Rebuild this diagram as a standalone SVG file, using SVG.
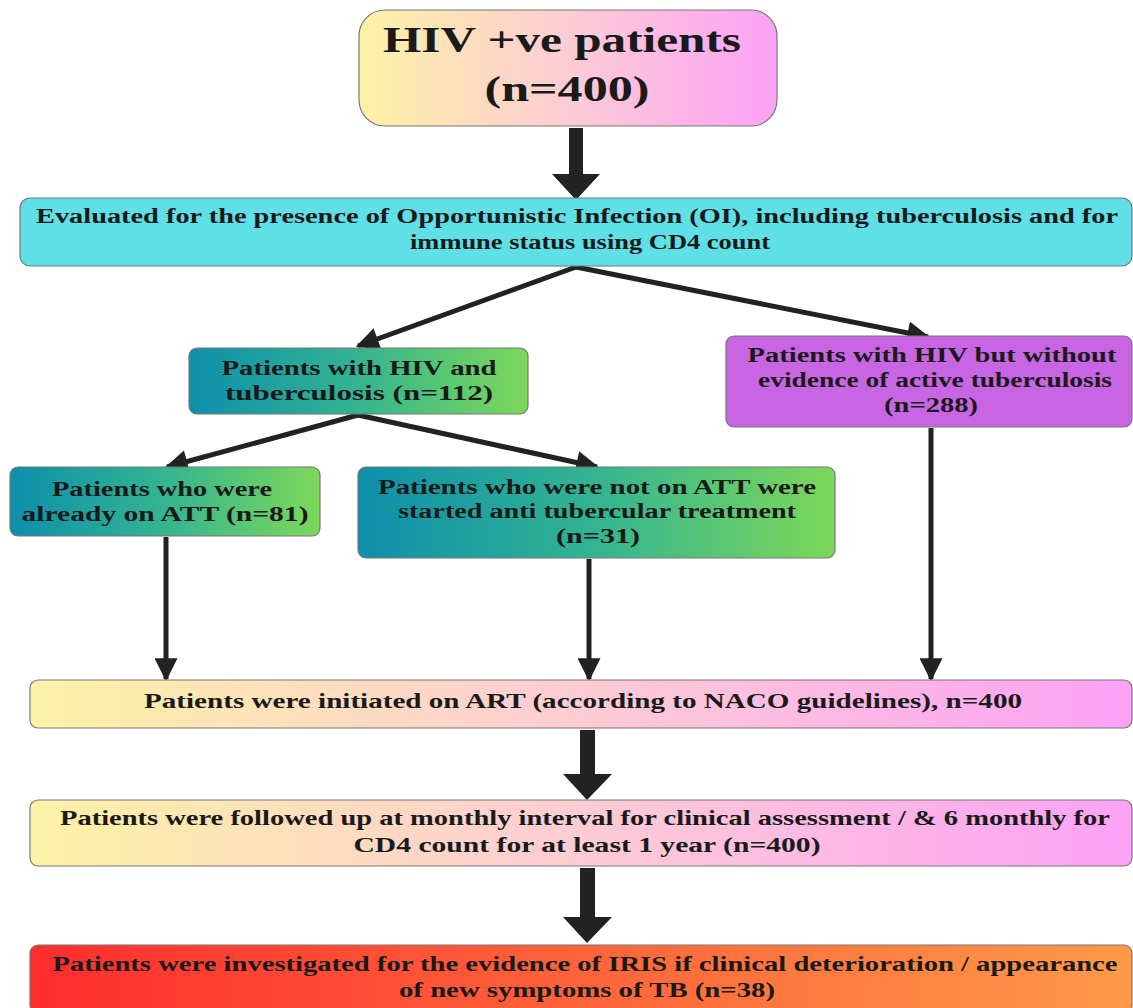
<svg xmlns="http://www.w3.org/2000/svg" width="1133" height="1008" viewBox="0 0 1133 1008">
<defs>
<linearGradient id="gYP" x1="0" y1="0" x2="1" y2="0"><stop offset="0" stop-color="#fdf2a6"/><stop offset="0.5" stop-color="#fdccd4"/><stop offset="1" stop-color="#fca2f6"/></linearGradient>
<linearGradient id="gTG" x1="0" y1="0" x2="1" y2="0"><stop offset="0" stop-color="#0e8fac"/><stop offset="0.5" stop-color="#34b490"/><stop offset="1" stop-color="#7cd858"/></linearGradient>
<linearGradient id="gRO" x1="0" y1="0" x2="1" y2="0"><stop offset="0" stop-color="#ff2d2d"/><stop offset="1" stop-color="#ff9a48"/></linearGradient>
<marker id="ah" viewBox="0 0 10 10" refX="9" refY="5" markerWidth="5" markerHeight="4.6" markerUnits="strokeWidth" orient="auto"><path d="M0,0 L10,5 L0,10 z" fill="#222"/></marker>
<style>
.box{stroke:#777;stroke-width:1.2}
.t{font-family:"Liberation Serif","Times New Roman",serif;font-weight:bold;fill:#1a1a1a;text-anchor:middle}
.ln{stroke:#222;stroke-width:5;fill:none;marker-end:url(#ah)}
.fat{fill:#222}
</style>
</defs>
<g id="connectors">
<path class="fat" d="M569,128 H583 V174 H600 L576,200 L552,174 H569 Z"/>
<line class="ln" x1="576" y1="267" x2="358" y2="346"/>
<line class="ln" x1="576" y1="267" x2="928" y2="337"/>
<line class="ln" x1="358" y1="415" x2="167" y2="467"/>
<line class="ln" x1="358" y1="415" x2="597" y2="467"/>
<line class="ln" x1="166" y1="537" x2="166" y2="679"/>
<line class="ln" x1="589" y1="559" x2="589" y2="679"/>
<line class="ln" x1="931" y1="428" x2="931" y2="679"/>
<path class="fat" d="M580,730 H595 V774 H612 L587,800 L563,774 H580 Z"/>
<path class="fat" d="M580,868 H595 V917 H612 L587,943 L563,917 H580 Z"/>
</g>
<g id="n1">
<rect class="box" x="359" y="10" width="418" height="116" rx="26" fill="url(#gYP)"/>
<text class="t" x="562" y="52" font-size="35" textLength="358" lengthAdjust="spacingAndGlyphs">HIV +ve patients</text>
<text class="t" x="567" y="101" font-size="35" textLength="165" lengthAdjust="spacingAndGlyphs">(n=400)</text>
</g>
<g id="n2">
<rect class="box" x="20" y="198" width="1112" height="68" rx="10" fill="#5ee0e6"/>
<text class="t" x="577" y="223" font-size="20" textLength="1082" lengthAdjust="spacingAndGlyphs">Evaluated for the presence of Opportunistic Infection (OI), including tuberculosis and for</text>
<text class="t" x="590" y="249" font-size="20" textLength="360" lengthAdjust="spacingAndGlyphs">immune status using CD4 count</text>
</g>
<g id="n3">
<rect class="box" x="189" y="348" width="339" height="66" rx="8" fill="url(#gTG)"/>
<text class="t" x="359" y="375" font-size="20" textLength="275" lengthAdjust="spacingAndGlyphs">Patients with HIV and</text>
<text class="t" x="359" y="400" font-size="20" textLength="268" lengthAdjust="spacingAndGlyphs">tuberculosis (n=112)</text>
</g>
<g id="n4">
<rect class="box" x="726" y="336" width="406" height="91" rx="8" fill="#c865e2"/>
<text class="t" x="932" y="362" font-size="20" textLength="369" lengthAdjust="spacingAndGlyphs">Patients with HIV but without</text>
<text class="t" x="935" y="387" font-size="20" textLength="354" lengthAdjust="spacingAndGlyphs">evidence of active tuberculosis</text>
<text class="t" x="931" y="412" font-size="20" textLength="94" lengthAdjust="spacingAndGlyphs">(n=288)</text>
</g>
<g id="n5">
<rect class="box" x="10" y="467" width="310" height="69" rx="8" fill="url(#gTG)"/>
<text class="t" x="162" y="496" font-size="20" textLength="220" lengthAdjust="spacingAndGlyphs">Patients who were</text>
<text class="t" x="165" y="521" font-size="20" textLength="287" lengthAdjust="spacingAndGlyphs">already on ATT (n=81)</text>
</g>
<g id="n6">
<rect class="box" x="358" y="467" width="477" height="91" rx="8" fill="url(#gTG)"/>
<text class="t" x="597" y="494" font-size="20" textLength="438" lengthAdjust="spacingAndGlyphs">Patients who were not on ATT were</text>
<text class="t" x="597" y="518" font-size="20" textLength="398" lengthAdjust="spacingAndGlyphs">started anti tubercular treatment</text>
<text class="t" x="598" y="543" font-size="20" textLength="84" lengthAdjust="spacingAndGlyphs">(n=31)</text>
</g>
<g id="n7">
<rect class="box" x="30" y="680" width="1102" height="48" rx="8" fill="url(#gYP)"/>
<text class="t" x="583" y="708" font-size="21" textLength="878" lengthAdjust="spacingAndGlyphs">Patients were initiated on ART (according to NACO guidelines), n=400</text>
</g>
<g id="n8">
<rect class="box" x="30" y="800" width="1102" height="66" rx="8" fill="url(#gYP)"/>
<text class="t" x="585" y="825" font-size="21" textLength="1050" lengthAdjust="spacingAndGlyphs">Patients were followed up at monthly interval for clinical assessment / &amp; 6 monthly for</text>
<text class="t" x="587" y="852" font-size="21" textLength="467" lengthAdjust="spacingAndGlyphs">CD4 count for at least 1 year (n=400)</text>
</g>
<g id="n9">
<rect class="box" x="30" y="945" width="1102" height="68" rx="8" fill="url(#gRO)"/>
<text class="t" x="585" y="971" font-size="21" textLength="1065" lengthAdjust="spacingAndGlyphs">Patients were investigated for the evidence of IRIS if clinical deterioration / appearance</text>
<text class="t" x="587" y="997" font-size="21" textLength="376" lengthAdjust="spacingAndGlyphs">of new symptoms of TB (n=38)</text>
</g>
</svg>
